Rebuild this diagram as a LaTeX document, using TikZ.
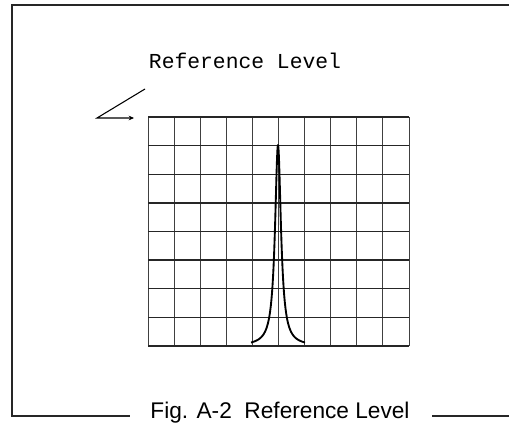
\documentclass[tikz,border=0pt]{standalone}
\usepackage{fontspec}
\newfontfamily\labelfont{Liberation Mono}
\newfontfamily\capfont{Liberation Sans}
\usetikzlibrary{arrows.meta,positioning}
\tikzset{
  frame/.style={draw=black!85, line width=1.1pt},
  hline/.style={draw=black!85, line width=1.0pt},
  vline/.style={draw=black!75, line width=0.7pt},
  trace/.style={draw=black, line width=1.4pt, line join=round},
  pointer/.style={-{Stealth[length=4pt,width=3.5pt]}, line width=0.8pt, draw=black},
  label/.style={font=\labelfont\fontsize{16}{18}\selectfont, inner sep=0pt},
  caption/.style={font=\capfont\fontsize{17}{20}\selectfont, inner sep=0pt, anchor=base}
}

\begin{document}
\begin{tikzpicture}[x=0.75pt, y=-0.75pt]
  \useasboundingbox (0,0) rectangle (509,424);
  % outer frame with caption gap
  \node[caption] (cap) at (280,418.5) {Fig. A-2\ \ Reference Level};
  \coordinate (capl) at (130,416);
  \coordinate (capr) at (432,416);
  \draw[frame] (509,5) -- (12,5) -- (12,416) -- (capl);
  \draw[frame] (capr) -- (509,416);
  % graticule
  \foreach \i in {0,...,10}
    \draw[vline] ({148+26.1*\i},117) -- ({148+26.1*\i},346);
  \foreach \j in {0,...,8}
    \draw[hline] (148,{117+28.625*\j}) -- (409,{117+28.625*\j});
  % signal peak
  \draw[trace] plot[domain=-27:27, samples=241, smooth]
    ({278+\x},{346-201/(1+(\x/3.6)^2)});
  % reference level marker
  \node[label] (reflbl) at (245,61) {Reference Level};
  \coordinate (tail) at (145,89);
  \coordinate (bend) at (97,118);
  \coordinate (lvl) at (134,118);
  \draw[pointer] (tail) -- (bend) -- (lvl);
\end{tikzpicture}
\end{document}
